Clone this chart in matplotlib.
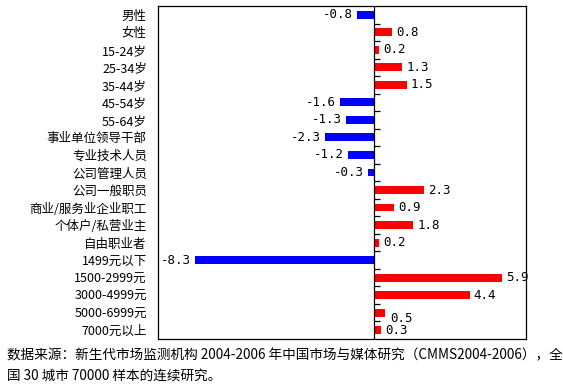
import matplotlib
matplotlib.use('agg')
import matplotlib.pyplot as plt
import numpy as np

plt.rcParams['font.family'] = ['Noto Sans CJK SC', 'DejaVu Sans']

# categories, top to bottom
categories = ['男性', '女性', '15-24岁', '25-34岁', '35-44岁', '45-54岁', '55-64岁',
              '事业单位领导干部', '专业技术人员', '公司管理人员', '公司一般职员',
              '商业/服务业企业职工', '个体户/私营业主', '自由职业者',
              '1499元以下', '1500-2999元', '3000-4999元', '5000-6999元', '7000元以上']
values = [-0.8, 0.8, 0.2, 1.3, 1.5, -1.6, -1.3, -2.3, -1.2, -0.3, 2.3,
          0.9, 1.8, 0.2, -8.3, 5.9, 4.4, 0.5, 0.3]

source = ('数据来源：新生代市场监测机构 2004-2006 年中国市场与媒体研究（CMMS2004-2006），全\n'
          '国 30 城市 70000 样本的连续研究。')


def main():
    fig = plt.figure(figsize=(5.63, 3.91), dpi=100)
    ax = fig.add_axes([0.2806, 0.133, 0.934 - 0.2806, 0.9847 - 0.133])

    y = np.arange(len(categories))
    colors = ['#FF0000' if v > 0 else '#0000FF' for v in values]
    ax.barh(y, values, height=0.45, color=colors, zorder=2)

    ax.set_xlim(-10, 7)
    ax.set_ylim(len(categories) - 0.5, -0.5)

    # zero line with little ticks between categories
    ax.axvline(0, color='black', lw=0.9, zorder=3)
    ax.plot(np.zeros(len(categories) - 1), y[:-1] + 0.5, ls='none',
            marker=1, ms=4, mew=0.9, color='black', zorder=3)

    # value labels
    for i, v in enumerate(values):
        dx, dy = (3, 0) if v > 0 else (-3, 0)
        if categories[i] == '5000-6999元':
            dx, dy = 4, -4.3
        ax.annotate(f'{v:.1f}', (v, i), xytext=(dx, dy), textcoords='offset points',
                    ha='left' if v > 0 else 'right', va='center',
                    fontsize=9, family=['DejaVu Sans Mono'])

    ax.set_xticks([])
    ax.set_yticks(y)
    ax.set_yticklabels(categories, fontsize=9)
    ax.tick_params(axis='y', length=0, pad=8)
    for s in ax.spines.values():
        s.set_linewidth(0.9)

    fig.text(0.012, 0.064, source, fontsize=9.8, va='center', ha='left', linespacing=1.7)

    fig.savefig('out.png', dpi=100)
    plt.close(fig)


if __name__ == "__main__":
    main()
